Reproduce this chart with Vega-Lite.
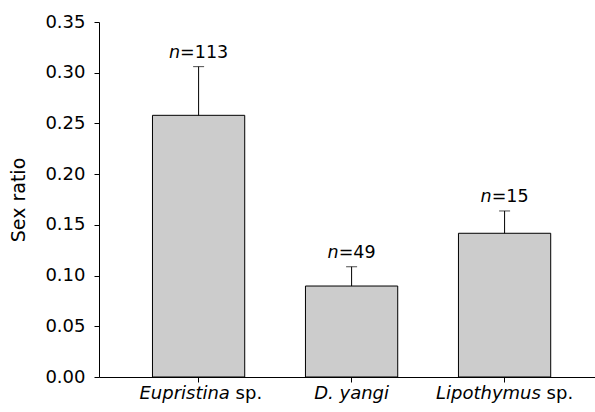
{
  "$schema": "https://vega.github.io/schema/vega-lite/v6.json",
  "autosize": {"type": "none"},
  "padding": {"left": 99, "top": 22, "right": 0, "bottom": 35},
  "width": 496,
  "height": 355,
  "config": {
    "font": "DejaVu Sans",
    "view": {"stroke": null},
    "axis": {"domainColor": "#000000", "tickColor": "#000000", "labelColor": "#000000", "titleColor": "#000000", "grid": false}
  },
  "data": {
    "values": [
      {"species": "Eupristina sp.", "ratio": 0.258, "upper": 0.306, "n": 113, "nlab": "=113", "ital": "Eupristina", "rom": "sp."},
      {"species": "D. yangi", "ratio": 0.0897, "upper": 0.1087, "n": 49, "nlab": "=49", "ital": "D. yangi", "rom": ""},
      {"species": "Lipothymus sp.", "ratio": 0.1417, "upper": 0.1637, "n": 15, "nlab": "=15", "ital": "Lipothymus", "rom": "sp."}
    ]
  },
  "encoding": {
    "x": {
      "field": "species", "type": "nominal", "sort": null,
      "scale": {"paddingInner": 0.397, "paddingOuter": 0.3195, "align": 0.547},
      "axis": {"title": null, "labels": false, "ticks": true, "tickSize": 5, "domainWidth": 1, "tickWidth": 1}
    }
  },
  "layer": [
    {
      "mark": {"type": "bar", "fill": "#cccccc", "stroke": "#000000", "strokeWidth": 1},
      "encoding": {
        "y": {
          "field": "ratio", "type": "quantitative",
          "scale": {"domain": [0, 0.35], "nice": false, "zero": true},
          "axis": {
            "title": "Sex ratio", "values": [0, 0.05, 0.1, 0.15, 0.2, 0.25, 0.3, 0.35], "format": ".2f",
            "labelFontSize": 18, "labelPadding": 9, "tickSize": 5,
            "titleFontSize": 19, "titleFontWeight": "normal", "titleAngle": -90,
            "titleX": -81, "titleY": 177.5, "titleAlign": "center", "titleBaseline": "middle"
          }
        }
      }
    },
    {
      "mark": {"type": "rule", "color": "#000000", "strokeWidth": 1},
      "encoding": {"y": {"field": "ratio", "type": "quantitative"}, "y2": {"field": "upper"}}
    },
    {
      "mark": {"type": "tick", "color": "#000000", "size": 11, "thickness": 1, "orient": "horizontal"},
      "encoding": {"y": {"field": "upper", "type": "quantitative"}}
    },
    {
      "transform": [{"filter": "datum.n > 99"}],
      "mark": {"type": "text", "align": "right", "baseline": "alphabetic", "fontStyle": "italic", "fontSize": 17.5, "dx": -18.5, "dy": -9, "color": "#000000"},
      "encoding": {"y": {"field": "upper", "type": "quantitative"}, "text": {"value": "n"}}
    },
    {
      "transform": [{"filter": "datum.n > 99"}],
      "mark": {"type": "text", "align": "left", "baseline": "alphabetic", "fontSize": 17.5, "dx": -18.5, "dy": -9, "color": "#000000"},
      "encoding": {"y": {"field": "upper", "type": "quantitative"}, "text": {"field": "nlab"}}
    },
    {
      "transform": [{"filter": "datum.n < 100"}],
      "mark": {"type": "text", "align": "right", "baseline": "alphabetic", "fontStyle": "italic", "fontSize": 17.5, "dx": -12.9, "dy": -9, "color": "#000000"},
      "encoding": {"y": {"field": "upper", "type": "quantitative"}, "text": {"value": "n"}}
    },
    {
      "transform": [{"filter": "datum.n < 100"}],
      "mark": {"type": "text", "align": "left", "baseline": "alphabetic", "fontSize": 17.5, "dx": -12.9, "dy": -9, "color": "#000000"},
      "encoding": {"y": {"field": "upper", "type": "quantitative"}, "text": {"field": "nlab"}}
    },
    {
      "transform": [{"filter": "datum.ital == 'Eupristina'"}],
      "mark": {"type": "text", "align": "right", "baseline": "alphabetic", "fontStyle": "italic", "fontSize": 18, "dx": 31.3, "dy": 22, "color": "#000000"},
      "encoding": {"y": {"datum": 0, "type": "quantitative"}, "text": {"field": "ital"}}
    },
    {
      "transform": [{"filter": "datum.ital == 'Eupristina'"}],
      "mark": {"type": "text", "align": "left", "baseline": "alphabetic", "fontSize": 18, "dx": 37.0, "dy": 22, "color": "#000000"},
      "encoding": {"y": {"datum": 0, "type": "quantitative"}, "text": {"field": "rom"}}
    },
    {
      "transform": [{"filter": "datum.ital == 'Lipothymus'"}],
      "mark": {"type": "text", "align": "right", "baseline": "alphabetic", "fontStyle": "italic", "fontSize": 18, "dx": 36.3, "dy": 22, "color": "#000000"},
      "encoding": {"y": {"datum": 0, "type": "quantitative"}, "text": {"field": "ital"}}
    },
    {
      "transform": [{"filter": "datum.ital == 'Lipothymus'"}],
      "mark": {"type": "text", "align": "left", "baseline": "alphabetic", "fontSize": 18, "dx": 42.0, "dy": 22, "color": "#000000"},
      "encoding": {"y": {"datum": 0, "type": "quantitative"}, "text": {"field": "rom"}}
    },
    {
      "transform": [{"filter": "datum.ital == 'D. yangi'"}],
      "mark": {"type": "text", "align": "center", "baseline": "alphabetic", "fontStyle": "italic", "fontSize": 18, "dy": 22, "color": "#000000"},
      "encoding": {"y": {"datum": 0, "type": "quantitative"}, "text": {"field": "ital"}}
    }
  ]
}
